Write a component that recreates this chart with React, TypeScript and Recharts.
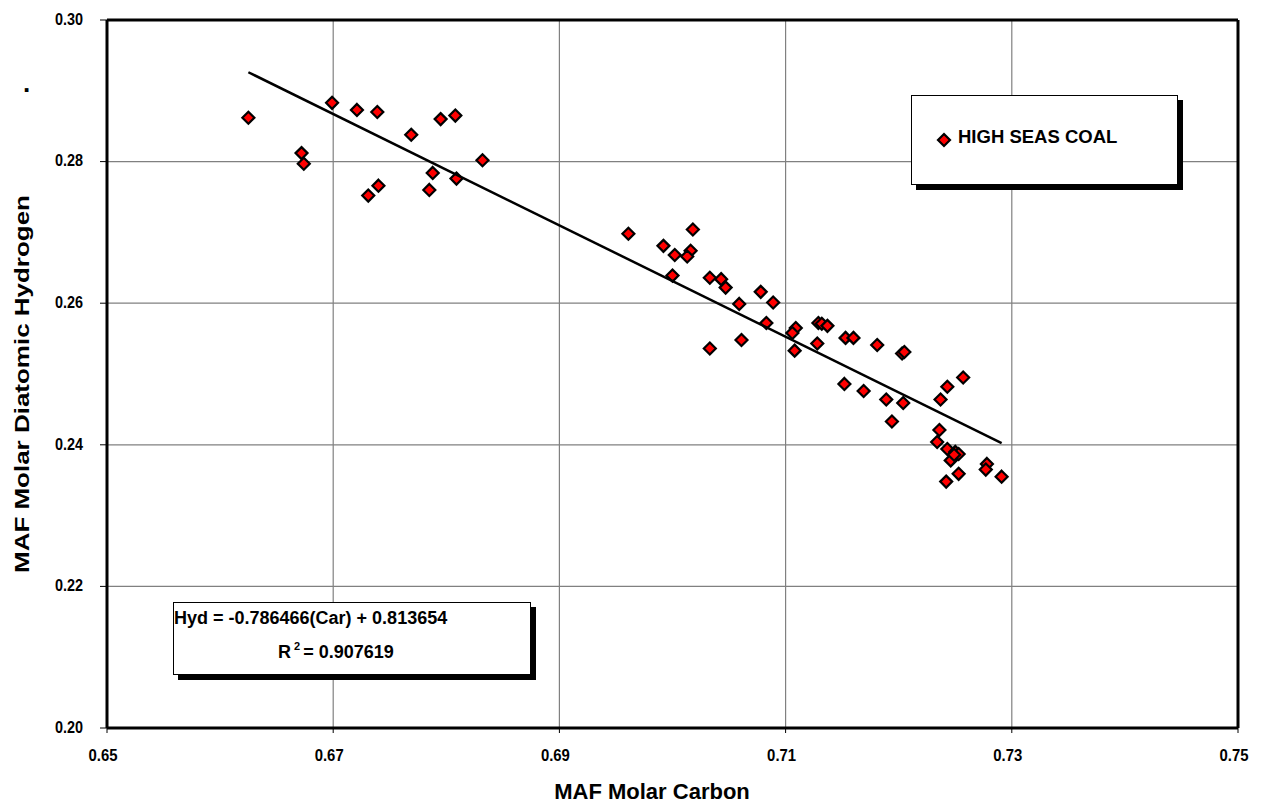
import React from "react";
import {
  ScatterChart,
  Scatter,
  XAxis,
  YAxis,
  CartesianGrid,
  ReferenceLine,
  Legend,
} from "recharts";

const carbon = [
  0.6625, 0.6672, 0.6674, 0.6699, 0.6721, 0.6739, 0.6731, 0.674, 0.6769, 0.6795,
  0.6808, 0.6788, 0.6785, 0.6809, 0.6832, 0.6961, 0.6992, 0.7002, 0.7018, 0.7016,
  0.7013, 0.7, 0.7033, 0.7043, 0.7047, 0.7059, 0.7078, 0.7089, 0.7033, 0.7061,
  0.7083, 0.7109, 0.7106, 0.7108, 0.7129, 0.7132, 0.7137, 0.7128, 0.7153, 0.716,
  0.7181, 0.7203, 0.7205, 0.7152, 0.7169, 0.7189, 0.7204, 0.7194, 0.7237, 0.7243,
  0.7257, 0.7236, 0.7234, 0.7243, 0.725, 0.7253, 0.7246, 0.7249, 0.7253, 0.7242,
  0.7278, 0.7277, 0.7291,
];

const hydrogen = [
  0.2862, 0.2812, 0.2797, 0.2883, 0.2873, 0.287, 0.2752, 0.2766, 0.2838, 0.286,
  0.2865, 0.2784, 0.276, 0.2776, 0.2802, 0.2698, 0.2681, 0.2668, 0.2704, 0.2674,
  0.2666, 0.2639, 0.2636, 0.2634, 0.2622, 0.2599, 0.2616, 0.2601, 0.2536, 0.2548,
  0.2572, 0.2565, 0.2558, 0.2533, 0.2572, 0.2571, 0.2568, 0.2543, 0.2551, 0.2551,
  0.2541, 0.2529, 0.2531, 0.2486, 0.2476, 0.2464, 0.2459, 0.2433, 0.2464, 0.2482,
  0.2495, 0.2421, 0.2404, 0.2394, 0.239, 0.2387, 0.2378, 0.2386, 0.2359, 0.2348,
  0.2373, 0.2365, 0.2355,
];

const xTicks = [0.65, 0.67, 0.69, 0.71, 0.73, 0.75];
const yTicks = [0.2, 0.22, 0.24, 0.26, 0.28, 0.3];

const slope = -0.786466;
const intercept = 0.813654;
const rSquared = "0.907619";
const seriesName = "HIGH SEAS COAL";
const xTitle = "MAF Molar Carbon";
const yTitle = "MAF Molar Diatomic Hydrogen";

const points = carbon.map((c, i) => ({ x: c, y: hydrogen[i] }));
const xMin = Math.min(...carbon);
const xMax = Math.max(...carbon);
const fitLine = [
  { x: xMin, y: slope * xMin + intercept },
  { x: xMax, y: slope * xMax + intercept },
];

const FONT = "'Liberation Sans', Arial, Helvetica, sans-serif";

const Diamond = (props: any) => {
  const { cx, cy } = props;
  if (cx == null || cy == null) return <g />;
  const r = 6;
  return (
    <path
      d={`M${cx},${cy - r}L${cx + r},${cy}L${cx},${cy + r}L${cx - r},${cy}Z`}
      fill="#ff0000"
      stroke="#000"
      strokeWidth={2.2}
    />
  );
};

const NoShape = () => <g />;

const XTick = (props: any) => {
  const { x, y, payload } = props;
  return (
    <text
      x={x - 4}
      y={y}
      dy="0.71em"
      textAnchor="middle"
      fontFamily={FONT}
      fontWeight="bold"
      fontSize={16.5}
      textLength={29}
      lengthAdjust="spacingAndGlyphs"
      fill="#000"
    >
      {Number(payload.value).toFixed(2)}
    </text>
  );
};

const YTick = (props: any) => {
  const { x, y, payload } = props;
  return (
    <text
      x={x}
      y={y}
      dy="0.3em"
      textAnchor="end"
      fontFamily={FONT}
      fontWeight="bold"
      fontSize={16}
      textLength={28}
      lengthAdjust="spacingAndGlyphs"
      fill="#000"
    >
      {Number(payload.value).toFixed(2)}
    </text>
  );
};

const XTitle = () => (
  <text
    x={652}
    y={799}
    textAnchor="middle"
    fontFamily={FONT}
    fontWeight="bold"
    fontSize={22}
    fill="#000"
  >
    {xTitle}
  </text>
);

const YTitle = () => (
  <text
    transform="translate(29,384) rotate(-90)"
    x={0}
    y={0}
    textAnchor="middle"
    fontFamily={FONT}
    fontWeight="bold"
    fontSize={21}
    fill="#000"
    textLength={378}
    lengthAdjust="spacingAndGlyphs"
  >
    {yTitle}
  </text>
);

const LegendBox = () => (
  <svg width={275} height={98} style={{ display: "block" }}>
    <rect x={5} y={5} width={267} height={90} fill="#000" />
    <rect x={0.5} y={0.5} width={266} height={89} fill="#fff" stroke="#000" strokeWidth={1} />
    <path d="M33,39L39,45L33,51L27,45Z" fill="#ff0000" stroke="#000" strokeWidth={2.2} />
    <text x={47} y={48} fontFamily={FONT} fontWeight="bold" fontSize={18.5} fill="#000">
      {seriesName}
    </text>
  </svg>
);

export default function App() {
  return (
    <div
      style={{
        position: "absolute",
        left: 0,
        top: 0,
        width: 1267,
        height: 808,
        background: "#fff",
      }}
    >
      <ScatterChart
        width={1267}
        height={808}
        margin={{ top: 20, right: 29, left: 0, bottom: 0 }}
      >
        <CartesianGrid stroke="#808080" strokeWidth={1.2} />
        <XAxis
          type="number"
          dataKey="x"
          domain={[0.65, 0.75]}
          ticks={xTicks}
          height={80}
          axisLine={{ stroke: "#000", strokeWidth: 3 }}
          tickLine={{ stroke: "#000", strokeWidth: 1 }}
          tickSize={5}
          tickMargin={16}
          tick={<XTick />}
          allowDataOverflow
          label={<XTitle />}
        />
        <YAxis
          type="number"
          dataKey="y"
          domain={[0.2, 0.3]}
          ticks={yTicks}
          width={107}
          axisLine={{ stroke: "#000", strokeWidth: 3 }}
          tickLine={{ stroke: "#000", strokeWidth: 1 }}
          tickSize={7}
          tickMargin={17}
          tick={<YTick />}
          allowDataOverflow
          label={<YTitle />}
        />
        <ReferenceLine y={0.3} stroke="#000" strokeWidth={3} />
        <ReferenceLine x={0.75} stroke="#000" strokeWidth={3} />
        <Scatter
          name={seriesName}
          data={points}
          shape={<Diamond />}
          isAnimationActive={false}
        />
        <Scatter
          name="fit"
          data={fitLine}
          line={{ stroke: "#000", strokeWidth: 2.5 }}
          lineType="joint"
          shape={<NoShape />}
          legendType="none"
          isAnimationActive={false}
        />
        <Legend
          layout="vertical"
          align="center"
          verticalAlign="middle"
          wrapperStyle={{ position: "absolute", left: 911, top: 95, width: 275, height: 98 }}
          content={() => <LegendBox />}
        />
      </ScatterChart>
      <svg
        width={1267}
        height={808}
        style={{ position: "absolute", left: 0, top: 0, pointerEvents: "none" }}
      >
        <rect x={178} y={607} width={358} height={73} fill="#000" />
        <rect x={173.5} y={602.5} width={357} height={72} fill="#fff" stroke="#000" strokeWidth={1} />
        <text x={174} y={624} fontFamily={FONT} fontWeight="bold" fontSize={18} fill="#000">
          {`Hyd = ${slope}(Car) + ${intercept}`}
        </text>
        <text x={278} y={658} fontFamily={FONT} fontWeight="bold" fontSize={18} fill="#000">
          R
          <tspan fontSize={11} dy={-8} dx={3}>2</tspan>
          <tspan dy={8} dx={3}>{`= ${rSquared}`}</tspan>
        </text>
        <text x={23} y={92} fontFamily={FONT} fontWeight="bold" fontSize={26} fill="#000">
          .
        </text>
      </svg>
    </div>
  );
}
